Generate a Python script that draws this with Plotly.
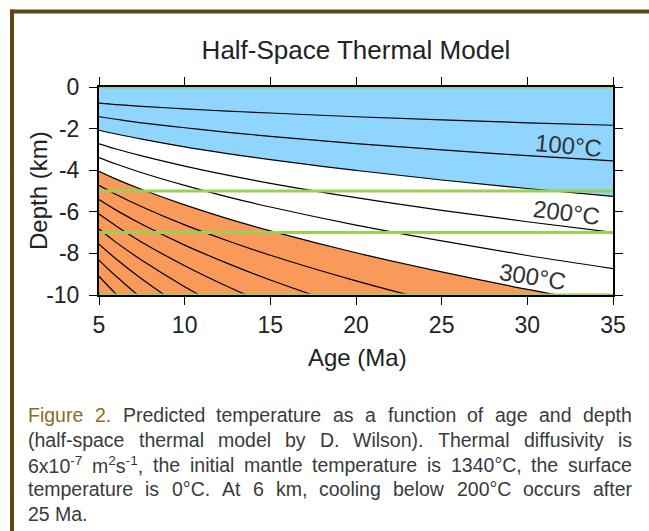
import re
import plotly.graph_objects as go

# ---------------- data ----------------
ages = [5, 6, 7.5, 10, 12.5, 15, 20, 25, 30, 35]          # Ma
isotherm_temps = [50, 100, 150, 200, 250, 300, 350, 400, 450, 500, 550, 600, 650, 700]  # degC

depth_50C  = [-0.78, -0.85, -0.93, -1.05, -1.16, -1.25, -1.43, -1.58, -1.72, -1.84]
depth_100C = [-1.43, -1.55, -1.72, -1.96, -2.18, -2.37, -2.72, -3.02, -3.30, -3.55]
depth_150C = [-2.08, -2.26, -2.51, -2.88, -3.20, -3.49, -4.01, -4.47, -4.88, -5.26]
depth_200C = [-2.73, -2.98, -3.31, -3.80, -4.24, -4.63, -5.32, -5.93, -6.48, -6.99]
depth_250C = [-3.39, -3.70, -4.12, -4.73, -5.28, -5.77, -6.64, -7.40, -8.10, -8.73]
depth_300C = [-4.05, -4.43, -4.93, -5.67, -6.33, -6.92, -7.97, -8.89, -9.73, -10.49]
depth_350C = [-4.73, -5.17, -5.76, -6.63, -7.39, -8.09, -9.32, -10.40, -11.38, -12.28]
depth_400C = [-5.41, -5.92, -6.60, -7.60, -8.48, -9.28, -10.69, -11.93, -13.06, -14.09]
depth_450C = [-6.11, -6.68, -7.46, -8.59, -9.59, -10.49, -12.09, -13.50, -14.77, -15.94]
depth_500C = [-6.83, -7.47, -8.33, -9.60, -10.72, -11.73, -13.52, -15.10, -16.52, -17.84]
depth_550C = [-7.56, -8.27, -9.23, -10.64, -11.88, -13.00, -14.98, -16.74, -18.32, -19.78]
depth_600C = [-8.32, -9.10, -10.16, -11.71, -13.07, -14.31, -16.50, -18.43, -20.18, -21.78]
depth_650C = [-9.10, -9.96, -11.12, -12.81, -14.31, -15.66, -18.06, -20.18, -22.09, -23.85]
depth_700C = [-9.91, -10.85, -12.11, -13.96, -15.59, -17.07, -19.68, -21.99, -24.08, -25.99]

isotherm_depths = [depth_50C, depth_100C, depth_150C, depth_200C, depth_250C, depth_300C,
                   depth_350C, depth_400C, depth_450C, depth_500C, depth_550C, depth_600C,
                   depth_650C, depth_700C]

marker_depths = [0, -5, -7, -10]              # green reference lines (km)
x_ticks = [5, 10, 15, 20, 25, 30, 35]
y_ticks = [0, -2, -4, -6, -8, -10]
y_ticktext = ["0", "-2", "-4", "-6", "-8", "-10"]
label_texts = ["100°C", "200°C", "300°C"]
label_ages = [32.4, 32.3, 30.3]
label_depths = [-2.83, -6.05, -9.13]
label_angles = [5, 7, 9]

caption_lines = [
    "Figure 2. Predicted temperature as a function of age and depth",
    "(half-space thermal model by D. Wilson). Thermal diffusivity is",
    "6x10<sup>-7</sup> m<sup>2</sup>s<sup>-1</sup>, the initial mantle temperature is 1340°C, the surface",
    "temperature is 0°C. At 6 km, cooling below 200°C occurs after",
    "25 Ma.",
]
caption_highlight = ["Figure", "2."]

BLUE = "#8fd5fd"
ORANGE = "#f99a5b"
GREEN = "#9ccf55"
BROWN = "#5e4810"
CAPTION_HL = "#8a6d1f"
FONT = "Liberation Sans"
TXT = "#222222"
CAP_SIZE = 19.5

# plot-area geometry in page pixels
L, R, T, B = 99, 613, 87, 295
W, H = R - L, B - T
CAP_LEFT, CAP_RIGHT = 27, 631
CAP_Y0, CAP_DY = 415, 24.8


def px(xp):
    return (xp - L) / W


def py(yp):
    return (B - yp) / H


# Arial / Liberation Sans advance widths (1/1000 em) for justifying the caption
CHAR_W = {' ': 278, '(': 333, ')': 333, ',': 278, '-': 333, '.': 278, '°': 400,
          'A': 667, 'C': 722, 'D': 722, 'F': 611, 'M': 833, 'P': 667, 'T': 611, 'W': 944,
          'a': 556, 'b': 556, 'c': 500, 'd': 556, 'e': 556, 'f': 278, 'g': 556, 'h': 556,
          'i': 222, 'k': 500, 'l': 222, 'm': 833, 'n': 556, 'o': 556, 'p': 556, 'r': 333,
          's': 500, 't': 278, 'u': 556, 'v': 500, 'w': 722, 'x': 500, 'y': 500}


def text_width(html, size):
    total = 0.0
    for part in re.split(r'(<sup>.*?</sup>)', html):
        if part.startswith('<sup>'):
            total += 0.7 * sum(CHAR_W.get(c, 556) for c in part[5:-6])
        else:
            total += sum(CHAR_W.get(c, 556) for c in part)
    return total * size / 1000.0


fig = go.Figure()

# orange region (hotter than 300 degC)
fig.add_trace(go.Scatter(x=ages, y=[-12] * len(ages), mode="lines",
                         line=dict(width=0), hoverinfo="skip", showlegend=False))
fig.add_trace(go.Scatter(x=ages, y=depth_300C, mode="lines", fill="tonexty",
                         fillcolor=ORANGE, line=dict(width=0, shape="spline"),
                         hoverinfo="skip", showlegend=False))
# blue region (colder than 150 degC)
fig.add_trace(go.Scatter(x=ages, y=depth_150C, mode="lines", fill="tozeroy",
                         fillcolor=BLUE, line=dict(width=0, shape="spline"),
                         hoverinfo="skip", showlegend=False))

# isotherms
for t, d in zip(isotherm_temps, isotherm_depths):
    fig.add_trace(go.Scatter(x=ages, y=d, mode="lines", name=f"{t}°C",
                             line=dict(color="black", width=1.2, shape="spline"),
                             showlegend=False))

# green reference lines
for d in marker_depths:
    fig.add_shape(type="line", xref="x", yref="y", x0=5, x1=35, y0=d, y1=d,
                  line=dict(color=GREEN, width=3))

# isotherm labels
for txt, a, d, ang in zip(label_texts, label_ages, label_depths, label_angles):
    fig.add_annotation(x=a, y=d, xref="x", yref="y", text=txt, showarrow=False,
                       textangle=ang, font=dict(family=FONT, size=24, color="#333333"))

# axis titles
fig.add_annotation(x=px(357), y=py(357), xref="paper", yref="paper", text="Age (Ma)",
                   showarrow=False, xanchor="center", yanchor="middle",
                   font=dict(family=FONT, size=24, color=TXT))
fig.add_annotation(x=px(38), y=py(191), xref="paper", yref="paper", text="Depth (km)",
                   showarrow=False, xanchor="center", yanchor="middle", textangle=-90,
                   font=dict(family=FONT, size=24, color=TXT))

# caption, justified word by word (last line left aligned)
n_lines = len(caption_lines)
for i, line in enumerate(caption_lines):
    yp = CAP_Y0 + i * CAP_DY
    words = line.split(" ")
    widths = [text_width(w, CAP_SIZE) for w in words]
    if i < n_lines - 1 and len(words) > 1:
        gap = (CAP_RIGHT - CAP_LEFT - sum(widths)) / (len(words) - 1)
    else:
        gap = CHAR_W[' '] * CAP_SIZE / 1000.0
    xcur = CAP_LEFT
    for w, ww in zip(words, widths):
        color = CAPTION_HL if (i == 0 and w in caption_highlight) else "#3a3a3a"
        fig.add_annotation(x=px(xcur), y=py(yp), xref="paper", yref="paper",
                           xanchor="left", yanchor="middle", showarrow=False, text=w,
                           borderpad=0, font=dict(family=FONT, size=CAP_SIZE, color=color))
        xcur += ww + gap

# page frame (brown border top and left)
fig.add_shape(type="line", xref="paper", yref="paper", layer="above",
              x0=px(10), x1=px(660), y0=py(11.5), y1=py(11.5),
              line=dict(color=BROWN, width=4))
fig.add_shape(type="line", xref="paper", yref="paper", layer="above",
              x0=px(12), x1=px(12), y0=py(9.5), y1=py(545),
              line=dict(color=BROWN, width=4))

fig.update_layout(
    width=649, height=531,
    margin=dict(l=L, r=649 - R, t=T, b=531 - B, autoexpand=False),
    paper_bgcolor="white", plot_bgcolor="white",
    title=dict(text="Half-Space Thermal Model", x=356 / 649, xanchor="center",
               y=1 - 50 / 531, yanchor="middle",
               font=dict(family=FONT, size=26, color=TXT)),
    font=dict(family=FONT, color=TXT),
    xaxis=dict(range=[5, 35], tickvals=x_ticks, ticks="outside", ticklen=8, tickwidth=1.2,
               tickcolor="black", showline=True, linecolor="black", linewidth=2,
               mirror="ticks", showgrid=False, zeroline=False,
               tickfont=dict(family=FONT, size=23, color=TXT)),
    yaxis=dict(range=[-10, 0], tickvals=y_ticks, ticktext=y_ticktext, ticks="outside",
               ticklen=8, tickwidth=1.2, ticklabelstandoff=5,
               tickcolor="black", showline=True, linecolor="black", linewidth=2,
               mirror="ticks", showgrid=False, zeroline=False,
               tickfont=dict(family=FONT, size=23, color=TXT)),
)

fig.write_html("out.html", config={"displayModeBar": False},
               post_script="document.body.style.margin='0';")
